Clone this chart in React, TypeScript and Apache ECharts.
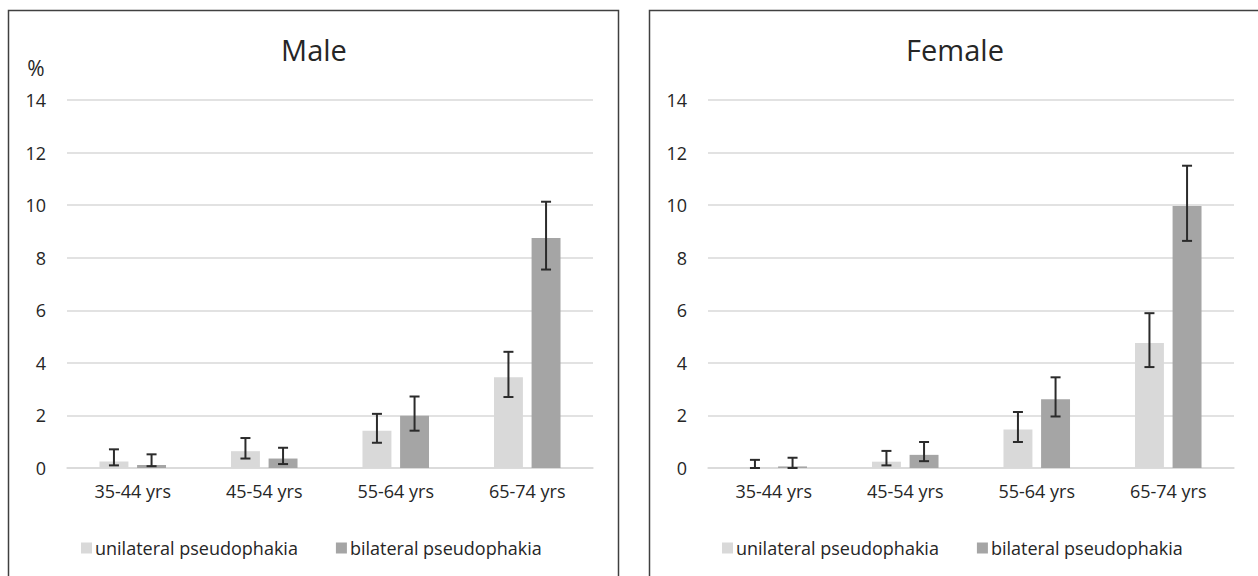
import React, { useEffect, useRef } from "react";
import * as echarts from "echarts";

const categories = ["35-44 yrs", "45-54 yrs", "55-64 yrs", "65-74 yrs"];
const seriesNames = ["unilateral pseudophakia", "bilateral pseudophakia"];
const panelTitles = ["Male", "Female"];

const maleUni = [0.25, 0.64, 1.42, 3.45];
const maleUniLow = [0.1, 0.36, 0.96, 2.7];
const maleUniHigh = [0.71, 1.14, 2.06, 4.42];
const maleBi = [0.11, 0.36, 1.99, 8.75];
const maleBiLow = [0.07, 0.15, 1.42, 7.55];
const maleBiHigh = [0.52, 0.77, 2.72, 10.13];

const femaleUni = [0.03, 0.24, 1.46, 4.76];
const femaleUniLow = [0.0, 0.1, 0.99, 3.84];
const femaleUniHigh = [0.31, 0.65, 2.13, 5.89];
const femaleBi = [0.06, 0.5, 2.62, 9.97];
const femaleBiLow = [0.0, 0.26, 1.96, 8.64];
const femaleBiHigh = [0.39, 0.99, 3.45, 11.5];

const BAR_FRAC = 0.22;
const GAP_FRAC = 0.3;
const COLORS = ["#d9d9d9", "#a5a5a5"];
const TEXT = "#262626";
const FONT = "'Open Sans', sans-serif";

function errorSeries(name: string, gridIdx: number, side: number, low: number[], high: number[]) {
  return {
    type: "custom",
    name: name + " error",
    xAxisIndex: gridIdx,
    yAxisIndex: gridIdx,
    silent: true,
    z: 5,
    data: categories.map((_, i) => [i, low[i], high[i]]),
    encode: { x: 0, y: [1, 2] },
    renderItem: (params: any, api: any) => {
      const cat = api.value(0);
      const lo = api.value(1);
      const hi = api.value(2);
      const band = api.size([1, 0])[0];
      const w = band * BAR_FRAC;
      const g = w * GAP_FRAC;
      const off = (side * (w + g)) / 2;
      const pLo = api.coord([cat, lo]);
      const pHi = api.coord([cat, hi]);
      const x = pLo[0] + off;
      const cap = 5;
      const style = { stroke: "#2b2b2b", lineWidth: 2 };
      return {
        type: "group",
        children: [
          { type: "line", shape: { x1: x, y1: pLo[1], x2: x, y2: pHi[1] }, style },
          { type: "line", shape: { x1: x - cap, y1: pLo[1], x2: x + cap, y2: pLo[1] }, style },
          { type: "line", shape: { x1: x - cap, y1: pHi[1], x2: x + cap, y2: pHi[1] }, style },
        ],
      };
    },
  };
}

function barSeries(name: string, gridIdx: number, data: number[], color: string) {
  return {
    type: "bar",
    name,
    xAxisIndex: gridIdx,
    yAxisIndex: gridIdx,
    barWidth: BAR_FRAC * 100 + "%",
    barGap: GAP_FRAC * 100 + "%",
    itemStyle: { color },
    data,
  };
}

export default function App() {
  const ref = useRef<HTMLDivElement>(null);
  useEffect(() => {
    if (!ref.current) return;
    const chart = echarts.init(ref.current, undefined, { renderer: "svg" });
    const grids = [
      { left: 67, right: 665, top: 100, bottom: 108 },
      { left: 708, right: 24, top: 100, bottom: 108 },
    ];
    const xAxes = grids.map((_, i) => ({
      type: "category",
      gridIndex: i,
      data: categories,
      axisLine: { lineStyle: { color: "#d9d9d9", width: 1.5 } },
      axisTick: { show: false },
      axisLabel: { color: TEXT, fontSize: 18, fontFamily: FONT, margin: 14 },
    }));
    const yAxes = grids.map((_, i) => ({
      type: "value",
      gridIndex: i,
      min: 0,
      max: 14,
      interval: 2,
      axisLine: { show: false },
      axisTick: { show: false },
      splitLine: { lineStyle: { color: "#d9d9d9", width: 1.5 } },
      axisLabel: { color: TEXT, fontSize: 18, fontFamily: FONT, margin: 21 },
    }));
    const legendBase = {
      orient: "horizontal",
      itemWidth: 11,
      itemHeight: 11,
      itemGap: 38,
      icon: "rect",
      top: 534,
      textStyle: { color: TEXT, fontSize: 18, fontFamily: FONT, padding: [0, 0, 0, -2] },
      data: seriesNames,
    };
    chart.setOption({
      animation: false,
      backgroundColor: "#ffffff",
      title: [
        {
          text: panelTitles[0],
          left: 309,
          top: 30,
          textAlign: "center",
          textStyle: { color: TEXT, fontSize: 29, fontWeight: "normal", fontFamily: FONT },
        },
        {
          text: panelTitles[1],
          left: 950,
          top: 30,
          textAlign: "center",
          textStyle: { color: TEXT, fontSize: 29, fontWeight: "normal", fontFamily: FONT },
        },
      ],
      legend: [
        { ...legendBase, left: 76 },
        { ...legendBase, left: 717 },
      ],
      grid: grids,
      xAxis: xAxes,
      yAxis: yAxes,
      series: [
        barSeries(seriesNames[0], 0, maleUni, COLORS[0]),
        barSeries(seriesNames[1], 0, maleBi, COLORS[1]),
        barSeries(seriesNames[0], 1, femaleUni, COLORS[0]),
        barSeries(seriesNames[1], 1, femaleBi, COLORS[1]),
        errorSeries(seriesNames[0], 0, -1, maleUniLow, maleUniHigh),
        errorSeries(seriesNames[1], 0, 1, maleBiLow, maleBiHigh),
        errorSeries(seriesNames[0], 1, -1, femaleUniLow, femaleUniHigh),
        errorSeries(seriesNames[1], 1, 1, femaleBiLow, femaleBiHigh),
      ],
      graphic: [
        {
          type: "rect",
          shape: { x: 8.5, y: 10.5, width: 610, height: 600 },
          style: { fill: "none", stroke: "#404040", lineWidth: 1.5 },
          z: 100,
        },
        {
          type: "rect",
          shape: { x: 649.5, y: 10.5, width: 650, height: 600 },
          style: { fill: "none", stroke: "#404040", lineWidth: 1.5 },
          z: 100,
        },
        {
          type: "text",
          x: 36,
          y: 68,
          style: {
            text: "%",
            fill: TEXT,
            fontSize: 21,
            fontFamily: FONT,
            textAlign: "center",
            textVerticalAlign: "middle",
          },
        },
      ],
    });
    return () => chart.dispose();
  }, []);
  return (
    <div
      ref={ref}
      style={{ position: "absolute", left: 0, top: 0, width: 1258, height: 576 }}
    />
  );
}
